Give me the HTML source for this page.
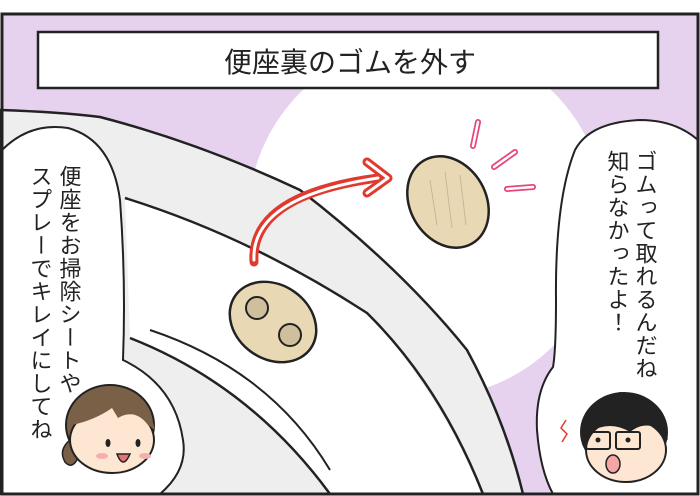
<!DOCTYPE html>
<html><head><meta charset="utf-8"><style>
html,body{margin:0;padding:0;background:#fff;width:700px;height:496px;overflow:hidden}
svg{display:block}
.v{font-family:"Liberation Sans","Noto Sans CJK JP",sans-serif;font-size:22px;fill:#222;writing-mode:vertical-rl;letter-spacing:1px}
</style></head><body>
<svg width="700" height="496" viewBox="0 0 700 496" xmlns="http://www.w3.org/2000/svg">
<rect x="0" y="0" width="700" height="496" fill="#fff"/>
<rect x="2" y="14" width="696" height="480" fill="#e6d2ee"/>
<circle cx="427" cy="219" r="179" fill="#fff"/>
<!-- seat gray outer band -->
<path d="M0,110 Q60,112 100,117 Q200,143 300,190 Q400,267 467,350 Q505,420 523,494 L0,494 Z" fill="#eeeeee" stroke="#222" stroke-width="2.5"/>
<!-- white inner surface -->
<path d="M125,198 Q250,237 367,313 Q433,383 483,494 L330,494 Q260,390 130,338 Z" fill="#fff"/>
<path d="M125,198 Q250,237 367,313 Q440,385 483,494" fill="none" stroke="#222" stroke-width="2.5"/>
<path d="M130,338 Q250,385 330,494" fill="none" stroke="#222" stroke-width="2.5"/>
<path d="M150,330 Q270,370 330,470" fill="none" stroke="#222" stroke-width="2"/>
<!-- left bubble -->
<path d="M2,150 Q30,122 68,128 Q112,140 120,200 Q126,280 123,360 Q175,385 183,440 Q188,470 160,494 L2,494 Z" fill="#fff" stroke="#222" stroke-width="2"/>
<!-- right bubble -->
<path d="M698,140 Q675,120 640,120 Q590,122 575,150 Q555,200 556,300 Q556,350 553,367 Q535,390 537,430 Q540,470 553,494 L698,494 Z" fill="#fff" stroke="#222" stroke-width="2"/>
<rect x="2" y="14" width="696" height="480" fill="none" stroke="#222" stroke-width="3"/>
<!-- title -->
<rect x="38" y="32" width="620" height="56" fill="#fff" stroke="#222" stroke-width="2.5"/>
<text x="350" y="72" text-anchor="middle" font-family="'Liberation Sans','Noto Sans CJK JP',sans-serif" font-size="28" fill="#222">便座裏のゴムを外す</text>
<!-- arrow -->
<g fill="none" stroke-linecap="round" stroke-linejoin="round">
<path d="M254,262 Q250,195 378,178" stroke="#e03a2e" stroke-width="9"/>
<path d="M367,162 L388,178 L367,193" stroke="#e03a2e" stroke-width="9"/>
<path d="M254,260 Q251,197 378,178" stroke="#fff" stroke-width="3"/>
<path d="M367,162 L388,178 L367,193" stroke="#fff" stroke-width="3"/>
</g>
<!-- rubbers -->
<ellipse cx="273" cy="322" rx="46" ry="37" transform="rotate(35 273 322)" fill="#e8d8b4" stroke="#222" stroke-width="2.5"/>
<circle cx="257" cy="308" r="11" fill="#cfbf9c" stroke="#222" stroke-width="2"/>
<circle cx="290" cy="335" r="11" fill="#cfbf9c" stroke="#222" stroke-width="2"/>
<ellipse cx="448" cy="202" rx="38" ry="48" transform="rotate(-30 448 202)" fill="#e8d8b4" stroke="#222" stroke-width="2.5"/>
<g stroke="#c8b796" stroke-width="1"><line x1="430" y1="180" x2="437" y2="225"/><line x1="445" y1="172" x2="452" y2="228"/><line x1="460" y1="175" x2="466" y2="225"/></g>
<g stroke-linecap="round">
<g stroke="#e8457a" stroke-width="6"><line x1="478" y1="122" x2="473" y2="146"/><line x1="515" y1="152" x2="494" y2="167"/><line x1="507" y1="189" x2="533" y2="187"/></g>
<g stroke="#fff" stroke-width="2.5"><line x1="478" y1="122" x2="473" y2="146"/><line x1="515" y1="152" x2="494" y2="167"/><line x1="507" y1="189" x2="533" y2="187"/></g>
</g>
<!-- text -->
<text class="v" x="69" y="165">便座をお掃除シートや</text>
<text class="v" x="40" y="165">スプレーでキレイにしてね</text>
<text class="v" x="645" y="150">ゴムって取れるんだね</text>
<text class="v" x="617" y="150">知らなかったよ！</text>
<!-- girl -->
<path d="M70,440 Q58,450 65,462 Q72,470 78,458 Z" fill="#7a6046" stroke="#222" stroke-width="1.5"/>
<ellipse cx="110" cy="425" rx="44" ry="40" fill="#7a6046" stroke="#222" stroke-width="2"/>
<ellipse cx="112" cy="440" rx="42" ry="33" fill="#fde6d2" stroke="#222" stroke-width="2"/>
<path d="M68,430 Q75,395 110,392 Q148,395 155,430 L148,425 Q135,408 118,418 L112,408 Q95,420 72,425 Z" fill="#7a6046"/>
<ellipse cx="108" cy="443" rx="2.5" ry="4" fill="#222"/><ellipse cx="138" cy="443" rx="2.5" ry="4" fill="#222"/>
<ellipse cx="102" cy="456" rx="6" ry="3" fill="#f4b0b0"/><ellipse cx="145" cy="456" rx="6" ry="3" fill="#f4b0b0"/>
<path d="M117,454 Q123,470 130,454 Z" fill="#e57373" stroke="#222" stroke-width="1.5"/>
<!-- boy -->
<ellipse cx="624" cy="432" rx="44" ry="40" fill="#222"/>
<ellipse cx="626" cy="450" rx="40" ry="32" fill="#fde6d2" stroke="#222" stroke-width="2"/>
<path d="M582,445 Q585,400 620,392 Q660,395 668,440 L660,430 Q645,420 630,432 Q610,420 590,432 Z" fill="#222"/>
<rect x="586" y="432" width="24" height="17" rx="2" fill="none" stroke="#222" stroke-width="2"/>
<rect x="616" y="432" width="24" height="17" rx="2" fill="none" stroke="#222" stroke-width="2"/>
<circle cx="598" cy="440" r="2.5" fill="#222"/><circle cx="628" cy="440" r="2.5" fill="#222"/>
<ellipse cx="613" cy="464" rx="7" ry="9" fill="#f4a6a6" stroke="#222" stroke-width="1.5"/>
<path d="M566,420 L561,428 L567,434 L562,442" fill="none" stroke="#e03a2e" stroke-width="1.5"/>
</svg>
</body></html>
